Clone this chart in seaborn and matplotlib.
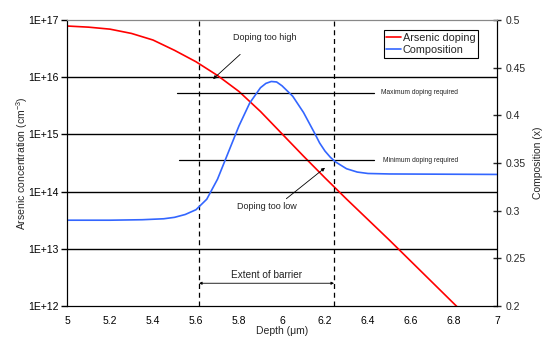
import matplotlib
matplotlib.use("Agg")
import matplotlib.pyplot as plt
import seaborn as sns
import pandas as pd
import numpy as np

depth_as = [5.0, 5.1, 5.2, 5.3, 5.4, 5.5, 5.6, 5.7, 5.8, 5.9, 6.0, 6.1, 6.2, 6.3, 6.4, 6.5, 6.6, 6.7, 6.8, 6.9]
log_arsenic = [16.895, 16.875, 16.84, 16.765, 16.65, 16.47, 16.27, 16.03, 15.75, 15.40,
               15.01, 14.62, 14.24, 13.87, 13.51, 13.15, 12.78, 12.41, 12.04, 11.67]
arsenic = [10 ** v for v in log_arsenic]

depth_comp = [5.0, 5.2, 5.35, 5.4, 5.45, 5.5, 5.55, 5.6, 5.65, 5.7, 5.75, 5.8, 5.85, 5.9, 5.925,
              5.95, 5.975, 6.0, 6.05, 6.1, 6.15, 6.175, 6.2, 6.225, 6.25, 6.3, 6.35, 6.4, 6.5, 7.0]
composition = [0.290, 0.290, 0.2905, 0.291, 0.2915, 0.293, 0.296, 0.301, 0.312, 0.333, 0.361, 0.389,
               0.413, 0.429, 0.4335, 0.4355, 0.435, 0.431, 0.420, 0.403, 0.382, 0.371, 0.3625, 0.356,
               0.351, 0.344, 0.3405, 0.339, 0.3385, 0.338]

y_ticks_left = [1e12, 1e13, 1e14, 1e15, 1e16, 1e17]
y_ticklabels_left = ["1E+12", "1E+13", "1E+14", "1E+15", "1E+16", "1E+17"]
x_ticks = [5, 5.2, 5.4, 5.6, 5.8, 6, 6.2, 6.4, 6.6, 6.8, 7]
x_ticklabels = ["5", "5.2", "5.4", "5.6", "5.8", "6", "6.2", "6.4", "6.6", "6.8", "7"]
y_ticks_right = [0.2, 0.25, 0.3, 0.35, 0.4, 0.45, 0.5]
y_ticklabels_right = ["0.2", "0.25", "0.3", "0.35", "0.4", "0.45", "0.5"]
barrier = [5.614, 6.242]
max_doping = 5.3e15
min_doping = 3.5e14

sns.set_style("white")
plt.rcParams['font.family'] = ['Liberation Sans', 'DejaVu Sans']
plt.rcParams['mathtext.fontset'] = 'custom'
plt.rcParams['mathtext.rm'] = 'Liberation Sans'
plt.rcParams['mathtext.it'] = 'Liberation Sans'

fig = plt.figure(figsize=(5.44, 3.38), dpi=100)
ax = fig.add_axes([67/544, 1-306/338, 430/544, 286/338])
ax2 = ax.twinx()

df_as = pd.DataFrame({"depth": depth_as, "val": arsenic})
df_c = pd.DataFrame({"depth": depth_comp, "val": composition})

ax.set_yscale("log")
sns.lineplot(data=df_as, x="depth", y="val", ax=ax, color="#ff0000", linewidth=1.2, label="Arsenic doping", legend=False)
sns.lineplot(data=df_c, x="depth", y="val", ax=ax2, color="#3366ff", linewidth=1.2, label="Composition", legend=False)

ax.set_xlim(5, 7)
ax.set_ylim(1e12, 1e17)
ax2.set_ylim(0.2, 0.5)

for t in y_ticks_left[1:-1]:
    ax.axhline(t, color="black", linewidth=1.0, zorder=1)

ax.set_yticks(y_ticks_left)
ax.set_yticklabels(y_ticklabels_left)
ax.yaxis.set_minor_locator(matplotlib.ticker.NullLocator())
ax.set_xticks(x_ticks)
ax.set_xticklabels(x_ticklabels)
ax2.set_yticks(y_ticks_right)
ax2.set_yticklabels(y_ticklabels_right)

ax.tick_params(axis="both", labelsize=7.5, length=4, width=1, direction="out", pad=2, colors="black")
ax.tick_params(axis="x", pad=3)
ax2.tick_params(axis="y", labelsize=7.5, length=6, width=1, direction="inout", pad=3)

for s in ["left", "bottom", "right"]:
    ax2.spines[s].set_color("black")
    ax.spines[s].set_color("black")
ax.spines["top"].set_color("#888888")
ax2.spines["top"].set_color("#888888")

ax.set_xlabel("Depth (\u03bcm)", fontsize=7.5, labelpad=0)
ax.set_ylabel("Arsenic concentration (cm$^{-3}$)", fontsize=7.5, labelpad=-1)
ax2.set_ylabel("Composition (x)", fontsize=7.5, labelpad=5)

for b in barrier:
    ax.axvline(b, color="black", linestyle=(0, (4, 3)), linewidth=0.9, zorder=2)

# doping required lines
ax.plot([5.51, 6.43], [max_doping, max_doping], color="black", linewidth=0.9)
ax.plot([5.52, 6.43], [min_doping, min_doping], color="black", linewidth=0.9)
ax.text(6.46, max_doping, "Maximum doping required", fontsize=4.8, va="center", ha="left", color="#222222")
ax.text(6.47, min_doping, "Minimum doping required", fontsize=4.8, va="center", ha="left", color="#222222")

# annotations
ax.annotate("", xy=(5.67, 8.6e15), xytext=(5.815, 2.7e16),
            arrowprops=dict(arrowstyle="-|>", color="black", lw=0.6, mutation_scale=5))
ax.text(5.921, 5.0e16, "Doping too high", fontsize=6.5, ha="center", va="center", color="#222222")
ax.annotate("", xy=(6.21, 2.8e14), xytext=(6.01, 7.0e13),
            arrowprops=dict(arrowstyle="-|>", color="black", lw=0.6, mutation_scale=5))
ax.text(5.93, 5.4e13, "Doping too low", fontsize=6.5, ha="center", va="center", color="#222222")
ax.annotate("", xy=(barrier[0], 2.5e12), xytext=(barrier[1], 2.5e12),
            arrowprops=dict(arrowstyle="<|-|>", color="black", lw=0.6, mutation_scale=4,
                            shrinkA=0, shrinkB=0))
ax.text(5.93, 3.5e12, "Extent of barrier", fontsize=7.2, ha="center", va="center", color="#222222")

h1, l1 = ax.get_legend_handles_labels()
h2, l2 = ax2.get_legend_handles_labels()
leg = ax2.legend(h1 + h2, l1 + l2, loc="upper right", bbox_to_anchor=(0.956, 0.965), fontsize=7.8,
                 frameon=True, fancybox=False, framealpha=1, edgecolor="black",
                 handlelength=1.3, handletextpad=0.2, borderpad=0.25, labelspacing=0.2, borderaxespad=0)
leg.get_frame().set_linewidth(0.8)

fig.savefig("out.png", dpi=100)
